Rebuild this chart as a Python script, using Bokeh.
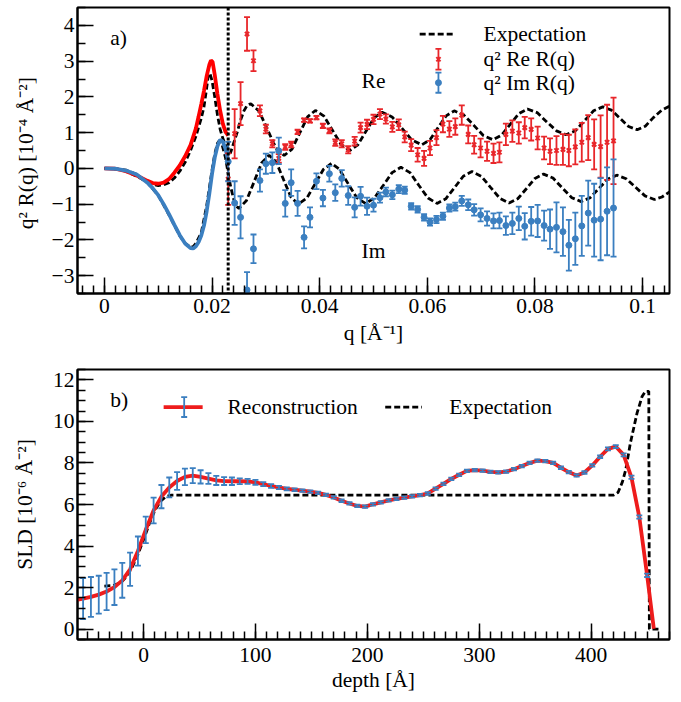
from bokeh.plotting import figure
from bokeh.layouts import column
from bokeh.models import (Range1d, SingleIntervalTicker, CustomJSTickFormatter,
                          ColumnDataSource, Span)
from bokeh.core.properties import value
from bokeh.embed import file_html
from bokeh.resources import INLINE

FONT = "Liberation Serif"
FS = "21.5px"
RED_LINE = "#ff0000"
RED_PTS = "#e8262a"
BLUE = "#3b7fc0"

# ---------------- panel a) data ----------------
Q_CRIT = 0.023

DATA_Q = [0.0230, 0.0242, 0.0253, 0.0265, 0.0277, 0.0289, 0.0300, 0.0312, 0.0324, 0.0336,
          0.0347, 0.0359, 0.0371, 0.0382, 0.0394, 0.0406, 0.0418, 0.0429, 0.0441, 0.0453,
          0.0465, 0.0476, 0.0488, 0.0500, 0.0512, 0.0523, 0.0535, 0.0547, 0.0558, 0.0570,
          0.0582, 0.0594, 0.0605, 0.0617, 0.0629, 0.0641, 0.0652, 0.0664, 0.0676, 0.0687,
          0.0699, 0.0711, 0.0723, 0.0734, 0.0746, 0.0758, 0.0770, 0.0781, 0.0793, 0.0805,
          0.0817, 0.0828, 0.0840, 0.0852, 0.0863, 0.0875, 0.0887, 0.0899, 0.0910, 0.0922,
          0.0934, 0.0946]

RE_VAL = [-0.30, 0.97, 1.81, 3.76, 3.01, 1.61, 1.10, 0.69, 0.28, 0.60,
          0.67, 1.02, 1.35, 1.33, 1.42, 1.19, 1.05, 0.72, 0.69, 0.52,
          0.76, 1.14, 1.23, 1.37, 1.52, 1.38, 1.16, 1.22, 0.88, 0.65,
          0.38, 0.28, 0.57, 0.86, 1.24, 1.10, 1.17, 1.49, 0.95, 0.66,
          0.57, 0.48, 0.42, 0.45, 0.95, 1.04, 0.99, 1.14, 1.09, 0.85,
          0.57, 0.48, 0.50, 0.53, 0.50, 0.60, 0.73, 0.86, 0.67, 0.61,
          0.73, 0.77]
RE_ERR = [0.72, 0.69, 0.60, 0.47, 0.29, 0.15, 0.12, 0.10, 0.12, 0.08,
          0.08, 0.06, 0.05, 0.05, 0.05, 0.06, 0.07, 0.09, 0.10, 0.10,
          0.12, 0.14, 0.13, 0.13, 0.14, 0.13, 0.14, 0.15, 0.15, 0.17,
          0.19, 0.21, 0.20, 0.21, 0.23, 0.22, 0.23, 0.27, 0.25, 0.25,
          0.26, 0.27, 0.27, 0.28, 0.30, 0.30, 0.30, 0.30, 0.31, 0.32,
          0.32, 0.36, 0.40, 0.43, 0.44, 0.49, 0.54, 0.63, 0.70, 0.87,
          1.05, 1.21]
IM_VAL = [0.19, -0.97, -1.37, -3.40, -2.25, -0.34, 0.13, 0.16, 0.49, -0.98,
          -0.40, -0.98, -1.93, -1.37, -0.36, -0.83, -0.15, -0.68, -0.28, -0.76,
          -1.09, -0.78, -1.06, -1.03, -0.82, -0.66, -0.74, -0.58, -0.61, -1.06,
          -1.15, -1.37, -1.50, -1.43, -1.34, -1.11, -1.07, -0.91, -1.02, -1.16,
          -1.30, -1.40, -1.47, -1.46, -1.60, -1.54, -1.40, -1.62, -1.48, -1.47,
          -1.60, -1.70, -1.65, -1.77, -2.15, -1.97, -1.61, -1.25, -1.45, -1.42,
          -1.20, -1.11]
IM_ERR = [0.55, 0.61, 0.59, 0.50, 0.40, 0.31, 0.28, 0.29, 0.37, 0.37,
          0.37, 0.35, 0.31, 0.28, 0.22, 0.23, 0.22, 0.23, 0.23, 0.26,
          0.28, 0.26, 0.24, 0.18, 0.14, 0.12, 0.12, 0.11, 0.10, 0.09,
          0.09, 0.09, 0.10, 0.10, 0.10, 0.10, 0.11, 0.14, 0.15, 0.16,
          0.18, 0.20, 0.21, 0.22, 0.26, 0.30, 0.33, 0.37, 0.40, 0.45,
          0.42, 0.55, 0.70, 0.68, 0.71, 0.73, 0.84, 0.91, 1.02, 1.15,
          1.23, 1.36]

RE_FIT_Q = [0, 0.002, 0.004, 0.006, 0.008, 0.009, 0.010, 0.011, 0.012, 0.013,
            0.014, 0.015, 0.016, 0.017, 0.0175, 0.018, 0.0185, 0.019, 0.0195, 0.0198,
            0.0201, 0.0205, 0.021, 0.0215, 0.022, 0.0225, 0.023]
RE_FIT = [0, -0.01, -0.08, -0.20, -0.35, -0.41, -0.43, -0.40, -0.30, -0.12,
          0.08, 0.34, 0.65, 1.12, 1.45, 1.80, 2.17, 2.58, 2.90, 3.02,
          2.98, 2.62, 2.08, 1.62, 1.25, 1.02, 0.92]
IM_FIT_Q = [0, 0.002, 0.004, 0.006, 0.008, 0.009, 0.010, 0.011, 0.012, 0.013,
            0.014, 0.015, 0.016, 0.0165, 0.017, 0.0175, 0.018, 0.0185, 0.019, 0.0195,
            0.020, 0.0205, 0.021, 0.0215, 0.022, 0.0225, 0.023]
IM_FIT = [0, -0.01, -0.06, -0.17, -0.40, -0.56, -0.75, -1.00, -1.28, -1.58,
          -1.87, -2.10, -2.23, -2.24, -2.18, -2.06, -1.88, -1.60, -1.20, -0.70,
          -0.15, 0.30, 0.62, 0.80, 0.75, 0.55, 0.22]

EXP_RE_Q = [0, 0.002, 0.004, 0.006, 0.008, 0.009, 0.010, 0.011, 0.012, 0.013,
            0.014, 0.015, 0.016, 0.017, 0.018, 0.0185, 0.019, 0.0193, 0.0196, 0.020,
            0.0205, 0.021, 0.0215, 0.022, 0.0225, 0.023, 0.0234, 0.0240, 0.0247, 0.0253,
            0.0259, 0.0265, 0.0272, 0.02875, 0.0303, 0.03185, 0.0334, 0.03485, 0.0363, 0.03775,
            0.0392, 0.0408, 0.0424, 0.0440, 0.0456, 0.0471, 0.0486, 0.0501, 0.0516, 0.05345,
            0.0553, 0.05715, 0.0590, 0.0605, 0.0620, 0.0635, 0.0650, 0.0668, 0.0686, 0.0704,
            0.0722, 0.0738, 0.0754, 0.0770, 0.0786, 0.0804, 0.0822, 0.0840, 0.0858, 0.0875,
            0.0892, 0.0909, 0.0926, 0.0942, 0.0958, 0.0974, 0.0990, 0.1005, 0.1020, 0.1035,
            0.1050]
EXP_RE = [0, -0.01, -0.08, -0.22, -0.38, -0.45, -0.48, -0.46, -0.40, -0.27,
          -0.08, 0.17, 0.50, 0.90, 1.40, 1.72, 2.25, 2.60, 2.66, 2.45,
          2.00, 1.50, 1.10, 0.84, 0.65, 0.50, 0.42, 0.70, 1.02, 1.35,
          1.60, 1.76, 1.81, 1.60, 1.09, 0.57, 0.36, 0.54, 0.99, 1.44,
          1.62, 1.46, 1.06, 0.66, 0.50, 0.66, 1.04, 1.41, 1.57, 1.44,
          1.12, 0.79, 0.66, 0.80, 1.14, 1.47, 1.61, 1.49, 1.21, 0.92,
          0.80, 0.93, 1.23, 1.53, 1.66, 1.56, 1.30, 1.05, 0.94, 1.05,
          1.33, 1.61, 1.72, 1.63, 1.40, 1.17, 1.08, 1.18, 1.42, 1.62,
          1.74]
EXP_IM_Q = [0, 0.002, 0.004, 0.006, 0.008, 0.010, 0.012, 0.014, 0.015, 0.016,
            0.0165, 0.017, 0.018, 0.019, 0.0195, 0.020, 0.0205, 0.021, 0.0213, 0.0218,
            0.0225, 0.023, 0.0235, 0.024, 0.0245, 0.0250, 0.0264, 0.0278, 0.0292, 0.0306,
            0.03195, 0.0333, 0.03465, 0.0360, 0.03763, 0.03915, 0.04068, 0.0422, 0.04363, 0.04525,
            0.04688, 0.0485, 0.05015, 0.0518, 0.05345, 0.0551, 0.05678, 0.05845, 0.06013, 0.0618,
            0.06343, 0.06505, 0.06668, 0.0683, 0.07003, 0.07175, 0.07348, 0.0752, 0.0768, 0.0784,
            0.0800, 0.0816, 0.08335, 0.0851, 0.08685, 0.0886, 0.09025, 0.0919, 0.09355, 0.0952,
            0.09695, 0.0987, 0.10045, 0.1022, 0.1036, 0.1050]
EXP_IM = [0, -0.01, -0.05, -0.17, -0.40, -0.75, -1.30, -1.88, -2.10, -2.20,
          -2.19, -2.10, -1.80, -1.05, -0.55, -0.05, 0.40, 0.70, 0.76, 0.70,
          0.30, -0.15, -0.54, -0.85, -1.06, -1.12, -0.90, -0.38, 0.15, 0.37,
          0.17, -0.32, -0.80, -1.00, -0.83, -0.43, -0.03, 0.14, -0.02, -0.42,
          -0.82, -0.98, -0.83, -0.48, -0.12, 0.03, -0.12, -0.48, -0.83, -0.98,
          -0.85, -0.54, -0.22, -0.09, -0.22, -0.53, -0.84, -0.97, -0.85, -0.57,
          -0.28, -0.16, -0.27, -0.55, -0.82, -0.93, -0.82, -0.56, -0.30, -0.19,
          -0.29, -0.53, -0.77, -0.87, -0.80, -0.66]

# ---------------- panel b) data ----------------
DEPTH = [-54, -47, -40, -33, -26, -19, -12, -5, 2, 9,
         16, 23, 30, 37, 44, 51, 58, 65, 72, 79,
         86, 93, 100, 107, 114, 121, 128, 135, 142, 149,
         156, 163, 170, 177, 184, 191, 198, 205, 212, 219,
         226, 233, 240, 247, 254, 261, 268, 275, 282, 289,
         296, 303, 310, 317, 324, 331, 338, 345, 352, 359,
         366, 373, 380, 387, 394, 401, 408, 415, 422, 429,
         436, 443, 450]
SLD = [1.47, 1.55, 1.66, 1.81, 2.02, 2.35, 2.88, 3.76, 4.78, 5.71,
       6.38, 6.82, 7.13, 7.33, 7.39, 7.33, 7.25, 7.16, 7.13, 7.12,
       7.12, 7.11, 7.07, 6.98, 6.89, 6.82, 6.75, 6.71, 6.67, 6.62,
       6.56, 6.46, 6.34, 6.18, 6.05, 5.93, 5.90, 6.01, 6.10, 6.20,
       6.27, 6.33, 6.39, 6.45, 6.53, 6.76, 6.99, 7.23, 7.43, 7.62,
       7.66, 7.63, 7.57, 7.55, 7.58, 7.70, 7.85, 8.00, 8.11, 8.09,
       8.00, 7.77, 7.56, 7.40, 7.54, 7.88, 8.30, 8.68, 8.79, 8.39,
       7.31, 5.40, 2.59]
SLD_ERR = [0.99, 0.96, 0.91, 0.90, 0.86, 0.84, 0.80, 0.70, 0.64, 0.62,
           0.56, 0.48, 0.43, 0.40, 0.36, 0.32, 0.26, 0.22, 0.19, 0.18,
           0.14, 0.12, 0.12, 0.10, 0.09, 0.08, 0.07, 0.07, 0.06, 0.06,
           0.06, 0.06, 0.06, 0.06, 0.06, 0.06, 0.06, 0.06, 0.06, 0.06,
           0.06, 0.06, 0.06, 0.06, 0.06, 0.06, 0.06, 0.06, 0.06, 0.06,
           0.06, 0.06, 0.06, 0.06, 0.06, 0.06, 0.06, 0.06, 0.06, 0.06,
           0.06, 0.06, 0.06, 0.06, 0.06, 0.06, 0.06, 0.07, 0.07, 0.07,
           0.08, 0.08, 0.08]
# ends of the reconstructed profile beyond the error-bar grid
RECON_START = (-60, 1.40)
RECON_END_DEPTH = [453, 456]
RECON_END_SLD = [1.30, 0.02]

EXP_DEPTH = [-35, -27, -20, -15, -10, -5, 0, 5, 10, 15, 20, 25,
             420, 424, 428, 431, 435, 441, 445.5, 448.5, 451.5, 452, 462]
EXP_SLD = [2.07, 2.10, 2.25, 2.55, 3.00, 3.60, 4.30, 5.05, 5.70, 6.15, 6.38, 6.45,
           6.45, 6.58, 7.10, 7.70, 8.95, 10.40, 11.20, 11.45, 11.45, 0.0, 0.0]

FMT_JS = "const v = Math.round(tick*1e6)/1e6; return v.toString().replace('-', '\u2212');"


def style(p, xtick, ytick, xstand, xlab_stand, ystand, ylab_stand):
    p.xgrid.visible = False
    p.ygrid.visible = False
    p.outline_line_color = "black"
    p.outline_line_width = 2
    p.outline_line_alpha = 1.0
    p.background_fill_color = "white"
    p.border_fill_color = "white"
    p.xaxis[0].ticker = xtick
    p.yaxis[0].ticker = ytick
    p.xaxis[0].major_label_standoff = xstand
    p.xaxis[0].axis_label_standoff = xlab_stand
    p.yaxis[0].major_label_standoff = ystand
    p.yaxis[0].axis_label_standoff = ylab_stand
    for ax in [p.xaxis[0], p.yaxis[0]]:
        ax.axis_line_width = 2
        ax.axis_line_color = "black"
        ax.major_tick_in = 16
        ax.major_tick_out = 0
        ax.minor_tick_in = 8
        ax.minor_tick_out = 0
        ax.major_tick_line_width = 1.5
        ax.minor_tick_line_width = 1.5
        ax.major_tick_line_color = "black"
        ax.minor_tick_line_color = "black"
        ax.major_label_text_font = FONT
        ax.major_label_text_font_size = FS
        ax.major_label_text_color = "black"
        ax.axis_label_text_font = FONT
        ax.axis_label_text_font_size = FS
        ax.axis_label_text_font_style = "normal"
        ax.axis_label_text_color = "black"
        ax.formatter = CustomJSTickFormatter(code=FMT_JS)


def errorbars(p, x, y, err, color, cap=6, lw=1.8, **kw):
    lo = [a - e for a, e in zip(y, err)]
    hi = [a + e for a, e in zip(y, err)]
    src = ColumnDataSource(dict(x=x, lo=lo, hi=hi))
    p.segment(x0="x", y0="lo", x1="x", y1="hi", source=src,
              line_color=color, line_width=lw, **kw)
    for col in ("lo", "hi"):
        p.scatter(x="x", y=col, marker="dash", size=cap, source=src,
                  line_color=color, line_width=lw, **kw)


def label(p, x, y, txt, align="left", **kw):
    p.text(x=[x], y=[y], text=[txt], text_font=value(FONT), text_font_size=FS,
           text_color="black", text_align=align, text_baseline="middle", **kw)


NORM = dict(x_range_name="fx", y_range_name="fy")

# ================= panel a =================
p1 = figure(width=681, height=356, x_range=Range1d(-0.005, 0.105), y_range=Range1d(-3.5, 4.5),
            output_backend="svg", toolbar_location=None,
            min_border_left=77, min_border_right=12, min_border_top=7, min_border_bottom=63,
            x_axis_label="q [Å⁻¹]", y_axis_label="q² R(q)  [10⁻⁴ Å⁻²]")
p1.extra_x_ranges = {"fx": Range1d(0, 1)}
p1.extra_y_ranges = {"fy": Range1d(0, 1)}
style(p1, SingleIntervalTicker(interval=0.02, num_minor_ticks=10),
      SingleIntervalTicker(interval=1, num_minor_ticks=2), 5, 5, 3, 11)

p1.line(EXP_RE_Q, EXP_RE, line_color="black", line_width=2.8, line_dash="6 3")
p1.line(EXP_IM_Q, EXP_IM, line_color="black", line_width=2.8, line_dash="6 3")
p1.line(RE_FIT_Q, RE_FIT, line_color=RED_LINE, line_width=3.8)
p1.line(IM_FIT_Q, IM_FIT, line_color=BLUE, line_width=3.8)

errorbars(p1, DATA_Q, RE_VAL, RE_ERR, RED_PTS)
p1.scatter(DATA_Q, RE_VAL, marker="x", size=6, line_color=RED_PTS, line_width=2)
errorbars(p1, DATA_Q, IM_VAL, IM_ERR, BLUE)
p1.scatter(DATA_Q, IM_VAL, marker="circle", size=6, fill_color=BLUE, line_color=BLUE)

p1.add_layout(Span(location=Q_CRIT, dimension="height", line_color="black",
                   line_width=3, line_dash="3 2"))

label(p1, 0.05, 2.45, "Re", align="center")
label(p1, 0.05, -2.32, "Im", align="center")
label(p1, 0.0552, 0.892, "a)", **NORM)

# legend a (frame-fraction coordinates)
p1.line([0.578, 0.638], [0.907, 0.907], line_color="black", line_width=2.8, line_dash="6 3", **NORM)
label(p1, 0.686, 0.907, "Expectation", **NORM)
errorbars(p1, [0.6097], [0.819], [0.036], RED_PTS, **NORM)
p1.scatter([0.6097], [0.819], marker="x", size=6, line_color=RED_PTS, line_width=2, **NORM)
label(p1, 0.686, 0.819, "q² Re R(q)", **NORM)
errorbars(p1, [0.6097], [0.737], [0.035], BLUE, **NORM)
p1.scatter([0.6097], [0.737], marker="circle", size=6, fill_color=BLUE, line_color=BLUE, **NORM)
label(p1, 0.686, 0.737, "q² Im R(q)", **NORM)

# ================= panel b =================
p2 = figure(width=681, height=346, x_range=Range1d(-59, 470), y_range=Range1d(-0.5, 12.5),
            output_backend="svg", toolbar_location=None,
            min_border_left=77, min_border_right=12, min_border_top=13, min_border_bottom=63,
            x_axis_label="depth [Å]", y_axis_label="SLD [10⁻⁶ Å⁻²]")
p2.extra_x_ranges = {"fx": Range1d(0, 1)}
p2.extra_y_ranges = {"fy": Range1d(0, 1)}
style(p2, SingleIntervalTicker(interval=100, num_minor_ticks=10),
      SingleIntervalTicker(interval=2, num_minor_ticks=4), 8, 3, 3, 13)

p2.line(EXP_DEPTH, EXP_SLD, line_color="black", line_width=2.8, line_dash="6 3")
recon_x = [RECON_START[0]] + DEPTH + RECON_END_DEPTH
recon_y = [RECON_START[1]] + SLD + RECON_END_SLD
p2.line(recon_x, recon_y, line_color="#ee1c1c", line_width=3.8)
errorbars(p2, DEPTH, SLD, SLD_ERR, BLUE)

label(p2, 0.0552, 0.888, "b)", **NORM)
p2.line([0.1455, 0.2114], [0.861, 0.861], line_color="#ee1c1c", line_width=3.8, **NORM)
errorbars(p2, [0.1802], [0.861], [0.037], BLUE, **NORM)
label(p2, 0.2534, 0.861, "Reconstruction", **NORM)
p2.line([0.5198, 0.5818], [0.861, 0.861], line_color="black", line_width=2.8, line_dash="6 3", **NORM)
label(p2, 0.628, 0.861, "Expectation", **NORM)

layout = column(p1, p2)
open("out.html", "w").write(file_html(layout, INLINE))
